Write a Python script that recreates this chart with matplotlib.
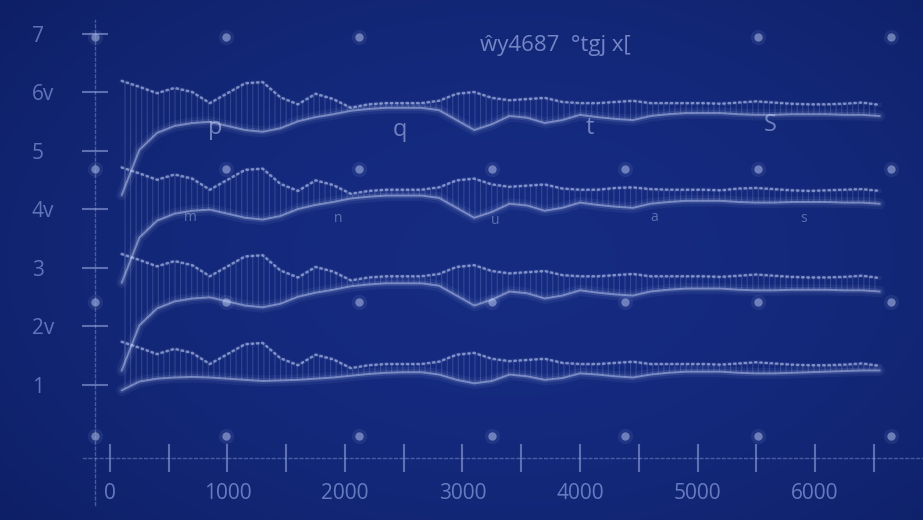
import numpy as np
import matplotlib.pyplot as plt

plt.rcParams['font.family'] = ['Open Sans', 'DejaVu Sans']
plt.rcParams['hatch.linewidth'] = 0.8

# sample positions shared by every trace
X = list(range(100, 6551, 150))

# group 1 (around 6)
g1_dots = [6.19, 6.09, 5.98, 6.07, 6.00, 5.81, 5.98, 6.15, 6.17, 5.91,
           5.79, 5.97, 5.88, 5.73, 5.79, 5.81, 5.81, 5.81, 5.85, 5.97,
           6.00, 5.90, 5.86, 5.88, 5.90, 5.83, 5.81, 5.81, 5.83, 5.85,
           5.81, 5.81, 5.81, 5.81, 5.80, 5.82, 5.84, 5.82, 5.80, 5.79,
           5.79, 5.80, 5.82, 5.78]
g1_line = [4.24, 5.01, 5.30, 5.42, 5.47, 5.49, 5.42, 5.35, 5.32, 5.38,
           5.50, 5.57, 5.62, 5.68, 5.71, 5.73, 5.73, 5.73, 5.69, 5.52,
           5.35, 5.45, 5.59, 5.56, 5.47, 5.52, 5.61, 5.57, 5.54, 5.52,
           5.59, 5.62, 5.64, 5.64, 5.64, 5.62, 5.61, 5.61, 5.62, 5.62,
           5.62, 5.61, 5.61, 5.59]

# group 2 (around 4.3)
g2_dots = [4.71, 4.61, 4.50, 4.59, 4.52, 4.33, 4.50, 4.67, 4.69, 4.43,
           4.31, 4.49, 4.41, 4.26, 4.31, 4.33, 4.33, 4.33, 4.37, 4.49,
           4.52, 4.42, 4.38, 4.40, 4.42, 4.35, 4.33, 4.33, 4.36, 4.37,
           4.34, 4.33, 4.33, 4.33, 4.32, 4.35, 4.36, 4.34, 4.32, 4.31,
           4.32, 4.33, 4.34, 4.31]
g2_line = [2.74, 3.51, 3.80, 3.92, 3.97, 3.99, 3.92, 3.85, 3.82, 3.88,
           4.00, 4.07, 4.12, 4.18, 4.21, 4.23, 4.23, 4.23, 4.19, 4.02,
           3.85, 3.95, 4.09, 4.06, 3.97, 4.02, 4.11, 4.07, 4.04, 4.02,
           4.09, 4.12, 4.14, 4.14, 4.14, 4.12, 4.11, 4.11, 4.12, 4.12,
           4.12, 4.11, 4.11, 4.09]

# group 3 (around 2.8)
g3_dots = [3.23, 3.13, 3.02, 3.11, 3.04, 2.85, 3.02, 3.19, 3.21, 2.95,
           2.83, 3.01, 2.93, 2.78, 2.83, 2.85, 2.85, 2.85, 2.89, 3.01,
           3.04, 2.94, 2.90, 2.92, 2.94, 2.87, 2.85, 2.85, 2.87, 2.89,
           2.85, 2.85, 2.85, 2.85, 2.84, 2.86, 2.88, 2.86, 2.84, 2.83,
           2.83, 2.84, 2.86, 2.82]
g3_line = [1.24, 2.01, 2.30, 2.42, 2.47, 2.49, 2.42, 2.35, 2.32, 2.38,
           2.50, 2.57, 2.62, 2.68, 2.71, 2.73, 2.73, 2.73, 2.69, 2.52,
           2.35, 2.45, 2.59, 2.56, 2.47, 2.52, 2.61, 2.57, 2.54, 2.52,
           2.59, 2.62, 2.64, 2.64, 2.64, 2.62, 2.61, 2.61, 2.62, 2.62,
           2.62, 2.61, 2.61, 2.59]

# group 4 (around 1.3)
g4_dots = [1.73, 1.63, 1.52, 1.61, 1.54, 1.35, 1.52, 1.69, 1.71, 1.45,
           1.33, 1.51, 1.43, 1.28, 1.33, 1.35, 1.35, 1.35, 1.39, 1.51,
           1.54, 1.44, 1.40, 1.42, 1.44, 1.37, 1.35, 1.35, 1.37, 1.39,
           1.35, 1.35, 1.35, 1.35, 1.34, 1.36, 1.38, 1.36, 1.34, 1.33,
           1.33, 1.34, 1.36, 1.32]
g4_line = [0.90, 1.05, 1.10, 1.12, 1.13, 1.12, 1.10, 1.08, 1.06, 1.07,
           1.08, 1.10, 1.12, 1.15, 1.18, 1.20, 1.21, 1.21, 1.17, 1.08,
           1.02, 1.06, 1.17, 1.14, 1.08, 1.11, 1.19, 1.17, 1.14, 1.12,
           1.17, 1.20, 1.22, 1.22, 1.22, 1.20, 1.19, 1.19, 1.20, 1.21,
           1.22, 1.23, 1.24, 1.24]

groups = [(g1_dots, g1_line), (g2_dots, g2_line),
          (g3_dots, g3_line), (g4_dots, g4_line)]

# axis ticks
y_ticks = [1, 2, 3, 4, 5, 6, 7]
y_labels = ['1', '2v', '3', '4v', '5', '6v', '7']
x_ticks = [0, 1000, 2000, 3000, 4000, 5000, 6000]
x_minor = [500, 1500, 2500, 3500, 4500, 5500, 6500]

# background dot lattice
dot_cols = [-128, 987, 2119, 3251, 4383, 5515, 6647]
dot_rows = [6.94, 4.68, 2.41, 0.12]
dot_skip = [(3251, 6.94), (4383, 6.94)]

title = 'ŵy4687  °tgj x['
big_marks = [('p', 894, 5.38), ('q', 2468, 5.35), ('t', 4085, 5.38), ('S', 5617, 5.44)]
small_marks = [('m', 681, 3.85), ('n', 1940, 3.83), ('u', 3277, 3.81),
               ('a', 4630, 3.85), ('s', 5900, 3.83)]

light = (0.80, 0.85, 1.0)
faint = (0.62, 0.68, 0.90)

fig = plt.figure(figsize=(9.23, 5.2), dpi=100)
ax = fig.add_axes([0, 0, 1, 1])
xlim = (-936, 6919)
ylim = (-1.316, 7.573)

# dark blue backdrop, a little brighter toward the middle
yy, xx = np.mgrid[0:1:260j, 0:1:462j]
r = np.clip(np.sqrt(((xx - 0.55) / 0.75) ** 2 + ((yy - 0.5) / 0.85) ** 2), 0, 1)
inner = np.array([0.085, 0.170, 0.505])
outer = np.array([0.050, 0.115, 0.385])
bg = inner[None, None, :] * (1 - r[..., None] ** 2) + outer[None, None, :] * r[..., None] ** 2
ax.imshow(bg, extent=(*xlim, *ylim), aspect='auto', origin='lower', zorder=0)

# dots of the lattice
for cx in dot_cols:
    for cy in dot_rows:
        if (cx, cy) in dot_skip:
            continue
        ax.plot(cx, cy, 'o', ms=11, color=light, alpha=0.08, mec='none', zorder=1)
        ax.plot(cx, cy, 'o', ms=6, color=light, alpha=0.45, mec='none', zorder=1)

for dots, line in groups:
    # vertical hatching between the two traces
    ax.fill_between(X, line, dots, where=[d >= l for d, l in zip(dots, line)],
                    interpolate=True, facecolor='none',
                    edgecolor=(0.80, 0.85, 1.0, 0.17), linewidth=0,
                    hatch='|||', zorder=2)
    # soft glowing trace
    ax.plot(X, line, color=light, lw=8, alpha=0.06, solid_capstyle='round', zorder=3)
    ax.plot(X, line, color=light, lw=4, alpha=0.12, solid_capstyle='round', zorder=3)
    ax.plot(X, line, color=light, lw=1.4, alpha=0.45, solid_capstyle='round', zorder=3)
    # dotted trace
    ax.plot(X, dots, color=light, lw=3, alpha=0.06, zorder=3)
    ax.plot(X, dots, color=light, lw=1.8, alpha=0.55, ls=(0, (0.6, 1.5)),
            dash_capstyle='round', zorder=4)

for s, x, y in big_marks:
    ax.text(x, y, s, fontsize=17, color=light, alpha=0.5, ha='center', va='center', zorder=5)
for s, x, y in small_marks:
    ax.text(x, y, s, fontsize=10, color=light, alpha=0.4, ha='center', va='center', zorder=5)

ax.text(3145, 6.8, title, fontsize=16, color=faint, alpha=0.7, ha='left', va='center', zorder=5)

# axes drawn as faint dashed lines through the data
ax.set_xlim(*xlim)
ax.set_ylim(*ylim)
for side in ['top', 'right']:
    ax.spines[side].set_visible(False)
ax.spines['left'].set_position(('data', -128))
ax.spines['bottom'].set_position(('data', -0.256))
ax.spines['left'].set_bounds(-1.06, 7.23)
ax.spines['bottom'].set_bounds(-230, xlim[1])
for side in ['left', 'bottom']:
    ax.spines[side].set_color(faint)
    ax.spines[side].set_alpha(0.4)
    ax.spines[side].set_linestyle((0, (2, 2)))
    ax.spines[side].set_linewidth(1.0)

ax.set_yticks(y_ticks, y_labels)
ax.set_xticks(x_ticks, [str(v) for v in x_ticks])
ax.set_xticks(x_minor, minor=True)
ax.tick_params(axis='y', direction='inout', length=19, width=1.5,
               color=(0.62, 0.68, 0.90, 0.55), pad=36,
               labelsize=15, labelcolor=(0.55, 0.62, 0.88, 0.65))
for lab in ax.get_yticklabels():
    lab.set_ha('left')
ax.tick_params(axis='x', which='both', direction='inout', length=20, width=1.5,
               color=(0.62, 0.68, 0.90, 0.55), pad=8,
               labelsize=15, labelcolor=(0.55, 0.62, 0.88, 0.7))

fig.savefig('out.png', dpi=100)
